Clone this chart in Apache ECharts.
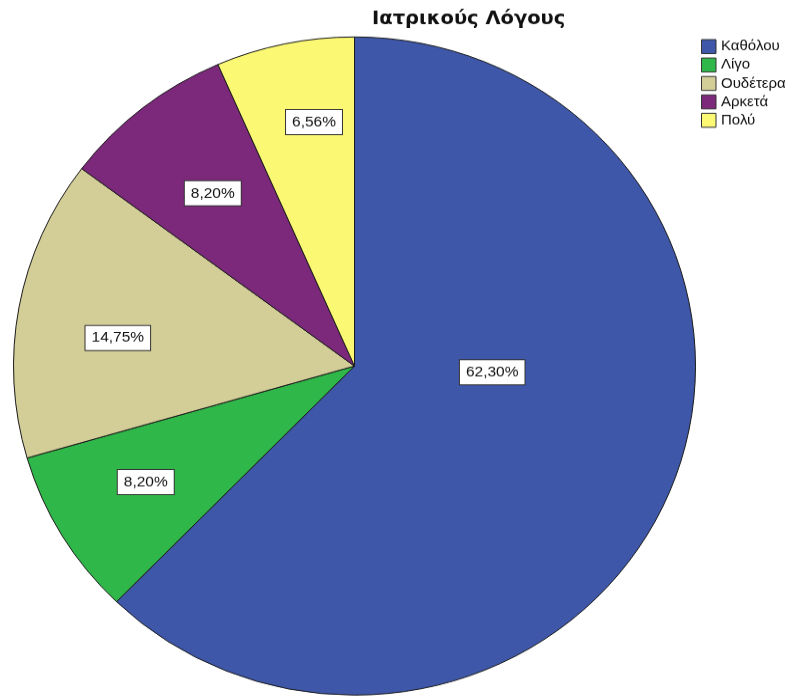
<!DOCTYPE html>
<html>
<head>
<meta charset="utf-8">
<script src="https://cdn.jsdelivr.net/npm/echarts@6/dist/echarts.min.js"></script>
<style>
  html, body { margin: 0; padding: 0; background: #fff; overflow: hidden; }
  /* the pie is drawn slightly flattened, so the whole canvas is squeezed vertically */
  #chart { width: 789px; height: 722px; transform: scaleY(0.965); transform-origin: 0 0; }
</style>
</head>
<body>
<div id="chart"></div>
<script>
// Ιατρικούς Λόγους — answer shares (%)
const categories = ['Καθόλου', 'Λίγο', 'Ουδέτερα', 'Αρκετά', 'Πολύ'];
const percents = [62.30, 8.20, 14.75, 8.20, 6.56];
const titleText = 'Ιατρικούς Λόγους';

const sliceColors = ['#3E57A9', '#2FB749', '#D3CD98', '#7C297C', '#FBF874'];
// label nudges from the default inside position, per slice
const labelNudge = [[-23, -59], [-60, 31], [-66, 2], [-34, -43], [-5, -83]];

const fmt = v => v.toFixed(2).replace('.', ',') + '%';

const chart = echarts.init(document.getElementById('chart'), null, { renderer: 'canvas' });
chart.setOption({
  animation: false,
  backgroundColor: '#ffffff',
  title: {
    text: titleText,
    left: 367,
    top: 5,
    textStyle: { fontFamily: 'DejaVu Sans', fontWeight: 'bold', fontSize: 19.5, color: '#111' }
  },
  legend: {
    orient: 'vertical',
    left: 696,
    top: 35.5,
    icon: 'rect',
    itemWidth: 14.5,
    itemHeight: 14.5,
    itemGap: 3.6,
    data: categories,
    itemStyle: { borderColor: '#333', borderWidth: 1 },
    textStyle: { fontFamily: 'Liberation Sans', fontSize: 15, lineHeight: 14, color: '#111' }
  },
  series: [{
    type: 'pie',
    center: [354.5, 379.3],
    radius: [0, 341],
    startAngle: 90,
    clockwise: true,
    avoidLabelOverlap: false,
    itemStyle: { borderColor: '#1a1a1a', borderWidth: 1 },
    label: {
      show: true,
      position: 'inside',
      formatter: p => fmt(p.value),
      fontFamily: 'Liberation Sans',
      fontSize: 15.5,
      color: '#111',
      backgroundColor: '#ffffff',
      borderColor: '#333',
      borderWidth: 1,
      padding: [5, 6, 4, 6]
    },
    labelLine: { show: false },
    emphasis: { disabled: true },
    labelLayout: p => ({ dx: labelNudge[p.dataIndex][0], dy: labelNudge[p.dataIndex][1] }),
    data: categories.map((c, i) => ({ name: c, value: percents[i], itemStyle: { color: sliceColors[i] } }))
  }]
});
</script>
</body>
</html>
